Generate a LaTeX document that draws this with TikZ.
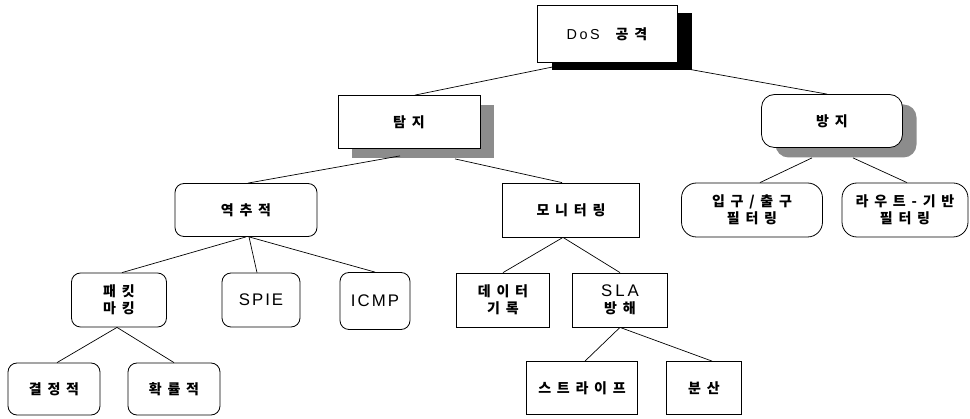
\documentclass[tikz,border=0pt]{standalone}
\usepackage{fontspec}
\setmainfont{Noto Sans CJK KR}[WordSpace=1.8]
\newfontfamily\latfont{Liberation Sans}[LetterSpace=12, Scale=1.2]
\usetikzlibrary{shadows}
\newcommand{\en}[1]{{\latfont\mdseries #1}}
\begin{document}
\begin{tikzpicture}[x=1pt,y=-1pt]
\tikzstyle{every node}+=[inner sep=0pt, align=center, font=\fontsize{14}{17}\selectfont\bfseries]
\tikzstyle{sqbox}=[draw=black, line width=0.8pt, fill=white, minimum height=54pt]
\tikzstyle{rdbox}=[sqbox, rounded corners=9pt]
\tikzstyle{darkshadow}=[drop shadow={shadow xshift=15pt, shadow yshift=-8pt, fill=black, opacity=1}]
\tikzstyle{greyshadow}=[drop shadow={shadow xshift=14pt, shadow yshift=-10pt, fill=black!45, opacity=1}]
\tikzstyle{link}=[black, line width=0.7pt]
\useasboundingbox (0,0) rectangle (970,419);
\node [sqbox, darkshadow, minimum width=140pt, minimum height=57pt] (dos) at (607,34) {{\fontsize{12}{15}\selectfont\en{D\hspace{2.5pt}o\hspace{2.5pt}S}}\hspace{16pt}공 격};
\node [sqbox, greyshadow, minimum width=142pt, minimum height=53pt] (detect) at (409,122) {탐 지};
\node [rdbox, greyshadow, rounded corners=13pt, minimum width=141pt, minimum height=53pt] (prevent) at (832,121) {방 지};
\node [rdbox, minimum width=142pt, minimum height=53pt] (trace) at (246,210) {역 추 적};
\node [sqbox, minimum width=137pt] (monitor) at (571,210) {모 니 터 링};
\node [rdbox, rounded corners=15pt, minimum width=141pt] (ingress) at (752,210) {입 구 / 출 구\\필 터 링};
\node [rdbox, rounded corners=15pt, minimum width=126pt] (route) at (905,210) {라 우 트 - 기 반\\필 터 링};
\node [rdbox, minimum width=95pt] (mark) at (119,300) {패 킷\\마 킹};
\node [rdbox, minimum width=78pt] (spie) at (261,300) {\en{SPIE}};
\node [rdbox, minimum width=70pt, minimum height=57pt] (icmp) at (375,301) {\en{ICMP}};
\node [sqbox, minimum width=93pt] (record) at (503,300) {데 이 터\\기 록};
\node [sqbox, minimum width=95pt] (sla) at (620,300) {\en{S\hspace{3pt}L\hspace{3pt}A}\\방 해};
\node [rdbox, minimum width=92pt, minimum height=52pt] (determ) at (54,389) {결 정 적};
\node [rdbox, minimum width=92pt, minimum height=52pt] (prob) at (174,389) {확 률 적};
\node [sqbox, minimum width=111pt, minimum height=53pt] (stripe) at (582,388) {스 트 라 이 프};
\node [sqbox, minimum width=75pt, minimum height=53pt] (spread) at (704,388) {분 산};
\draw [link] ([xshift=-54pt,yshift=-4pt]dos.south) -- ([xshift=6pt]detect.north);
\draw [link] ([xshift=80pt,yshift=-6pt]dos.south) -- ([xshift=-5pt]prevent.north);
\draw [link] ([xshift=-9pt,yshift=-7pt]detect.south) -- ([xshift=2pt]trace.north);
\draw [link] ([xshift=46pt,yshift=-10pt]detect.south) -- ([xshift=-9pt]monitor.north);
\draw [link] (trace.south) -- ([xshift=3pt]mark.north);
\draw [link] ([xshift=3pt]trace.south) -- ([xshift=-4pt]spie.north);
\draw [link] ([xshift=3pt]trace.south) -- (icmp.north);
\draw [link] ([xshift=-8pt]monitor.south) -- (record.north);
\draw [link] ([xshift=-8pt]monitor.south) -- (sla.north);
\draw [link] ([xshift=-2pt]mark.south) -- ([xshift=3pt]determ.north);
\draw [link] ([xshift=-2pt]mark.south) -- (prob.north);
\draw [link] (sla.south) -- ([xshift=3pt]stripe.north);
\draw [link] (sla.south) -- ([xshift=8pt]spread.north);
\draw [link] ([xshift=-20pt,yshift=-10pt]prevent.south) -- ([xshift=8pt]ingress.north);
\draw [link] ([xshift=21pt,yshift=-10pt]prevent.south) -- ([xshift=2pt]route.north);
\end{tikzpicture}
\end{document}
